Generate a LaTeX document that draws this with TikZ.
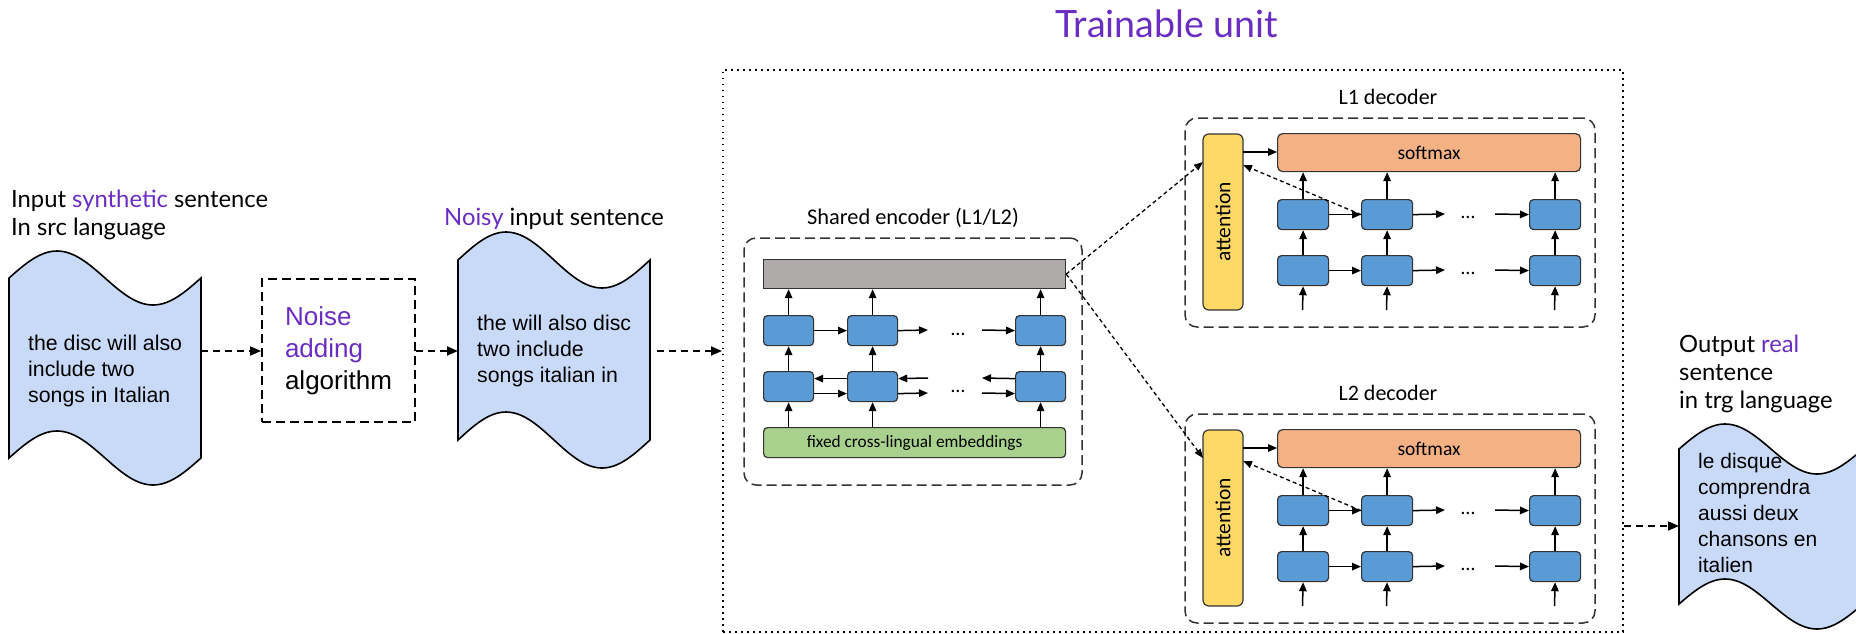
\documentclass[tikz,border=0pt]{standalone}
\usepackage{fontspec}
\usepackage{graphicx}
\setmainfont{Liberation Sans}
\newfontfamily\latofont{Lato}
\newfontfamily\calfont{Carlito}
\usetikzlibrary{arrows.meta,calc}

\definecolor{accent}{HTML}{6A2DC2}
\definecolor{tape}{HTML}{C9DAF8}
\definecolor{cellblue}{HTML}{5B9BD5}
\definecolor{ctxgray}{HTML}{AEAAAA}
\definecolor{embgreen}{HTML}{A9D18E}
\definecolor{smorange}{HTML}{F4B183}
\definecolor{attyellow}{HTML}{FFD966}

% punched-tape outline: left x, top corner y, width, wave amplitude, height
\newcommand{\punchtape}[5]{%
  \filldraw[tapeshape] (#1,#2) sin ({#1+#3/4},{#2-#4}) cos ({#1+#3/2},#2)
    sin ({#1+3*#3/4},{#2+#4}) cos ({#1+#3},#2) -- ({#1+#3},{#2+#5})
    sin ({#1+3*#3/4},{#2+#5+#4}) cos ({#1+#3/2},{#2+#5})
    sin ({#1+#3/4},{#2+#5-#4}) cos (#1,{#2+#5}) -- cycle;}

\begin{document}
\begin{tikzpicture}[x=1pt,y=-1pt,
  tapeshape/.style={fill=tape,draw=black,line width=1.6},
  tapetext/.style={font=\fontsize{21.3}{26}\selectfont,align=left,inner sep=0,anchor=west},
  lbl/.style={font=\latofont\fontsize{23.8}{28}\selectfont,align=left,inner sep=0,anchor=west},
  flow/.style={line width=1.8,dash pattern=on 7pt off 5pt,-{Triangle[length=11pt,width=9pt]}},
  noisebox/.style={draw,line width=1.8,dash pattern=on 9pt off 5pt,minimum width=153,minimum height=143,
    font=\fontsize{26}{32}\selectfont,align=left},
  trainbox/.style={draw,line width=1.8,dash pattern=on 1.6pt off 4.4pt,minimum width=900,minimum height=562,anchor=north west},
  modbox/.style={draw=black!80,line width=1.5,dash pattern=on 10pt off 5pt,rounded corners=12},
  modlabel/.style={font=\calfont\fontsize{22}{26}\selectfont},
  cell/.style={draw=black!80,fill=cellblue,rounded corners=4,line width=1.2,minimum width=50,minimum height=30,inner sep=0,anchor=north west},
  bar/.style={draw=black!80,line width=1.2,inner sep=0,anchor=north west},
  arr/.style={line width=1.5,-{Triangle[length=9pt,width=7.5pt]}},
  attlink/.style={line width=1.3,dash pattern=on 4pt off 3pt,-{Triangle[length=9pt,width=7pt]}},
  dotsym/.style={font=\calfont\fontsize{20}{24}\selectfont,inner sep=0}]

\useasboundingbox (0,0) rectangle (1856,633);

% ---------- title and trainable region ----------
\node[font=\latofont\fontsize{37.6}{44}\selectfont,text=accent] (title) at (1167,24) {Trainable unit};
\node[trainbox] (train) at (722,69) {};

% ---------- input sentence ----------
\node[lbl] (inlabel) at (11,215) {Input \textcolor{accent}{synthetic} sentence\\In src language};
\punchtape{9}{278}{192}{27}{180}
\coordinate (w1r) at (201,351);
\node[tapetext] (intext) at (28,371) {the disc will also\\include two\\songs in Italian};

% ---------- noise ----------
\node[noisebox] (noise) at (338.5,350.5) {\textcolor{accent}{Noise}\\\textcolor{accent}{adding}\\algorithm};

% ---------- noisy sentence ----------
\node[lbl] (noisylabel) at (444,219) {\textcolor{accent}{Noisy} input sentence};
\punchtape{458}{260}{192}{28}{180}
\coordinate (w2l) at (458,351);
\coordinate (w2r) at (650,351);
\node[tapetext] (noisytext) at (477,351) {the will also disc\\two include\\songs italian in};

\draw[flow] (w1r) -- (noise.west |- w1r);
\draw[flow] (noise.east |- w2l) -- (w2l);
\draw[flow] ([xshift=7pt]w2r) -- (train.west |- w2r);

% ---------- shared encoder ----------
\node[modlabel,font=\calfont\fontsize{22.4}{27}\selectfont] (enclabel) at (913,218) {Shared encoder (L1/L2)};
\node[modbox,minimum width=338,minimum height=247] (enc) at (913,361.5) {};
\node[bar,fill=ctxgray,minimum width=302,minimum height=29] (ctx) at (763,259) {};
\node[bar,fill=embgreen,rounded corners=4,minimum width=302,minimum height=30,
  font=\calfont\fontsize{17.3}{21}\selectfont] (emb) at (763,427) {fixed cross-lingual embeddings};
\foreach \c/\x in {1/763,2/847,3/1015}{
  \node[cell] (eu\c) at (\x,315) {};
  \node[cell] (el\c) at (\x,371) {};
}
\foreach \c in {1,2,3}{
  \draw[arr] (emb.north -| el\c.south) -- (el\c.south);
  \draw[arr] (el\c.north) -- (eu\c.south);
  \draw[arr] (eu\c.north) -- (ctx.south -| eu\c.north);
}
\coordinate (eu2r) at (928,330);
\coordinate (eu3l) at (982,330);
\coordinate (el2r) at (928,386);
\coordinate (el3l) at (982,386);
\draw[arr] (eu1.east) -- (eu2.west);
\draw[arr] (eu2.east) -- (eu2r);
\draw[arr] (eu3l) -- (eu3.west);
\draw[arr] ([yshift=8pt]el2.west) -- ([yshift=8pt]el1.east);
\draw[arr] ([yshift=-7pt]el1.east) -- ([yshift=-7pt]el2.west);
\draw[arr] ([yshift=8pt]el2r) -- ([yshift=8pt]el2.east);
\draw[arr] ([yshift=-7pt]el2.east) -- ([yshift=-7pt]el2r);
\draw[arr] ([yshift=8pt]el3.west) -- ([yshift=8pt]el3l);
\draw[arr] ([yshift=-7pt]el3l) -- ([yshift=-7pt]el3.west);
\node[dotsym] (edots1) at (958,334) {\dots};
\node[dotsym] (edots2) at (958,391) {\dots};

% ---------- L1 / L2 decoders ----------
\foreach \k/\oy in {1/0,2/296}{
  \node[modlabel] (declab\k) at (1388,{97+\oy}) {L\k\ decoder};
  \node[modbox,minimum width=410,minimum height=209] (dec\k) at (1390,{222.5+\oy}) {};
  \node[draw=black!80,fill=attyellow,rounded corners=6,line width=1.2,minimum width=40,minimum height=176,
    inner sep=0,font=\calfont\fontsize{21.5}{25}\selectfont] (att\k) at (1223,{222+\oy}) {\rotatebox{90}{attention}};
  \node[bar,fill=smorange,rounded corners=5,minimum width=303,minimum height=38,
    font=\calfont\fontsize{19.5}{23}\selectfont] (sm\k) at (1277,{133+\oy}) {softmax};
  \foreach \c/\x in {1/1277,2/1361,3/1529}{
    \node[cell,minimum width=51] (du\k\c) at (\x,{199+\oy}) {};
    \node[cell,minimum width=51] (dl\k\c) at (\x,{255+\oy}) {};
    \coordinate (din\k\c) at ({\x+25.5},{310+\oy});
    \draw[arr] (din\k\c) -- (dl\k\c.south);
    \draw[arr] (dl\k\c.north) -- (du\k\c.south);
    \draw[arr] (du\k\c.north) -- (sm\k.south -| du\k\c.north);
  }
  \coordinate (du\k r) at (1445,{214+\oy});
  \coordinate (du\k l) at (1495,{214+\oy});
  \coordinate (dl\k r) at (1445,{270+\oy});
  \coordinate (dl\k l) at (1495,{270+\oy});
  \draw[arr] (du\k1.east) -- (du\k2.west);
  \draw[arr] (du\k2.east) -- (du\k r);
  \draw[arr] (du\k l) -- (du\k3.west);
  \draw[arr] (dl\k1.east) -- (dl\k2.west);
  \draw[arr] (dl\k2.east) -- (dl\k r);
  \draw[arr] (dl\k l) -- (dl\k3.west);
  \node[dotsym] (ddu\k) at (1468,{217+\oy}) {\dots};
  \node[dotsym] (ddl\k) at (1468,{273+\oy}) {\dots};
  \coordinate (attin\k) at (1243,{152+\oy});
  \draw[arr] (attin\k) -- (sm\k.west |- attin\k);
  \coordinate (attfb\k) at (1243,{165+\oy});
  \draw[attlink] (du\k2.west) -- (attfb\k);
  \coordinate (attenc\k) at (1203,{162+\oy});
  \draw[attlink] (ctx.east) -- (attenc\k);
}

% ---------- output sentence ----------
\node[lbl] (outlabel) at (1679,374) {Output \textcolor{accent}{real}\\sentence\\in trg language};
\punchtape{1679}{449}{184}{25}{155}
\coordinate (w3l) at (1679,526);
\draw[flow] (train.east |- w3l) -- (w3l);
\node[tapetext,font=\fontsize{21}{25.8}\selectfont] (outtext) at (1698,513) {le disque\\comprendra\\aussi deux\\chansons en\\italien};

\end{tikzpicture}
\end{document}
